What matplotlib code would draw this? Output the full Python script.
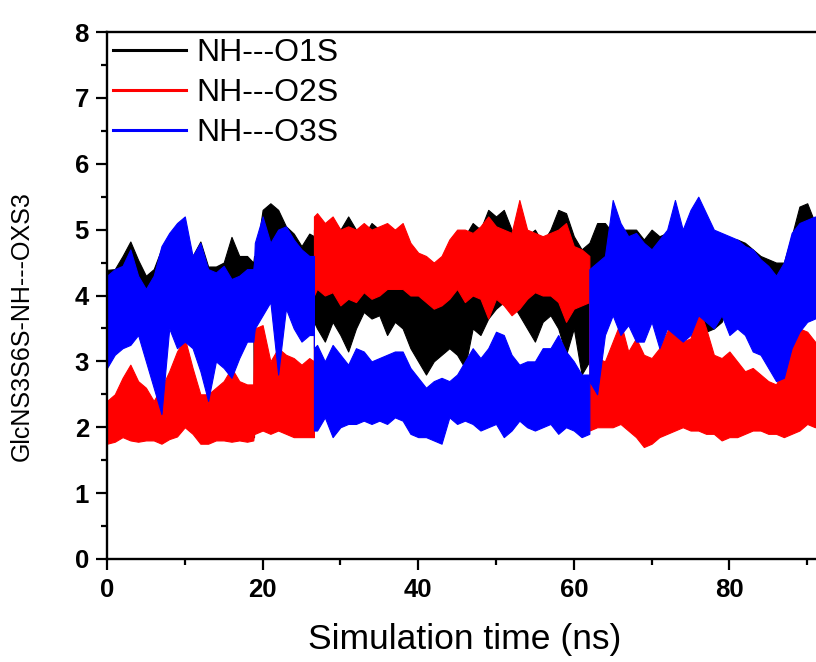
import matplotlib
matplotlib.use("Agg")
import matplotlib.pyplot as plt
from matplotlib.lines import Line2D
from matplotlib.ticker import MultipleLocator

plt.rcParams['font.family'] = ['Liberation Sans', 'DejaVu Sans']

SERIES = ["NH---O1S", "NH---O2S", "NH---O3S"]
COLORS = ["#000000", "#ff0000", "#0000ff"]
XTICKS = [0, 20, 40, 60, 80]

TIME = (list(range(0, 19)) + [18.8, 18.9] + list(range(19, 27)) + [26.6, 26.6]
        + list(range(27, 62)) + [62.0, 62.0] + list(range(63, 92)))

O1S_HIGH = ([4.39, 4.4, 4.6, 4.82, 4.54, 4.3, 4.4, 4.71, 4.6, 4.6, 4.55, 4.6, 4.82, 4.44, 4.44, 4.5, 4.89, 4.6, 4.6]
            + [4.5, 4.6]
            + [4.5, 5.3, 5.4, 5.3, 5.05, 4.94, 4.75, 4.94]
            + [4.9, 5.0]
            + [5.1, 5.0, 5.14, 5.0, 5.2, 5.0, 4.9, 5.1, 5.0, 4.9, 5.0, 4.8, 4.7, 4.5, 4.5, 4.5, 4.4, 4.6, 4.8, 4.9,
               5.1, 5.0, 5.3, 5.2, 5.3, 5.0, 4.9, 4.9, 5.0, 4.8, 5.0, 5.3, 5.25, 4.9, 4.7]
            + [4.8, 4.8]
            + [5.1, 5.1, 4.95, 5.0, 5.0, 5.0, 4.85, 5.0, 4.9, 4.95, 5.0, 4.8, 4.9, 5.0, 4.95, 4.8, 4.7, 4.8, 4.85,
               4.8, 4.7, 4.6, 4.55, 4.5, 4.5, 4.9, 5.35, 5.4, 5.1])
O1S_LOW = ([3.8, 3.9, 3.8, 3.7, 3.8, 3.7, 3.8, 3.9, 3.8, 3.7, 3.8, 3.9, 3.8, 3.7, 3.8, 3.9, 3.8, 3.7, 3.8]
           + [3.7, 1.85]
           + [3.9, 3.9, 4.0, 3.9, 3.8, 3.9, 3.8, 3.9]
           + [3.8, 3.6]
           + [3.5, 3.3, 3.6, 3.4, 3.15, 3.5, 3.75, 3.65, 3.7, 3.4, 3.6, 3.5, 3.2, 3.0, 2.8, 3.0, 3.1, 3.2, 3.1, 2.9,
              3.5, 3.4, 3.65, 3.8, 3.9, 3.9, 3.7, 3.5, 3.3, 3.6, 3.7, 3.5, 3.1, 3.5, 2.8]
           + [3.0, 4.0]
           + [4.2, 4.1, 4.2, 4.1, 4.0, 4.1, 3.9, 4.0, 4.1, 3.9, 4.0, 3.9, 3.8, 3.5, 3.45, 3.5, 3.6, 3.9, 4.0, 4.1,
              4.0, 4.1, 4.0, 3.9, 3.85, 4.0, 4.1, 4.0, 4.1])

O2S_HIGH = ([2.4, 2.5, 2.75, 2.95, 2.7, 2.6, 2.4, 2.6, 2.85, 3.15, 3.35, 2.9, 2.5, 2.5, 2.6, 2.7, 2.9, 2.7, 2.65]
            + [2.65, 3.4]
            + [3.5, 3.55, 3.0, 3.2, 3.1, 3.05, 2.95, 3.05]
            + [3.0, 5.2]
            + [5.25, 5.1, 5.2, 5.0, 5.05, 5.0, 5.1, 5.0, 5.05, 5.1, 5.0, 5.1, 4.8, 4.65, 4.6, 4.5, 4.6, 4.85, 5.0, 5.0,
               4.95, 5.05, 5.2, 5.05, 5.0, 4.95, 5.45, 5.0, 4.95, 4.9, 4.95, 5.0, 5.1, 4.75, 4.7]
            + [4.6, 3.0]
            + [3.05, 3.0, 3.3, 3.6, 3.15, 3.35, 3.1, 3.05, 3.2, 3.45, 3.75, 3.3, 3.35, 3.85, 3.5, 3.1, 3.05, 3.15,
               3.0, 2.85, 2.9, 2.8, 2.7, 2.65, 2.9, 3.25, 3.5, 3.45, 3.3])
O2S_LOW = ([1.75, 1.78, 1.85, 1.8, 1.78, 1.8, 1.8, 1.75, 1.82, 1.86, 2.0, 1.9, 1.75, 1.75, 1.8, 1.8, 1.78, 1.8, 1.78]
           + [1.8, 1.9]
           + [1.9, 1.95, 1.9, 1.95, 1.9, 1.85, 1.85, 1.85]
           + [1.85, 4.0]
           + [4.1, 4.0, 4.05, 3.85, 3.95, 3.9, 4.05, 3.95, 4.0, 4.1, 4.1, 4.1, 4.0, 4.0, 3.9, 3.8, 3.85, 3.95, 4.1,
              3.9, 4.0, 3.95, 3.65, 3.95, 3.85, 3.7, 3.8, 3.95, 4.05, 4.0, 4.0, 3.9, 3.6, 3.8, 3.85]
           + [3.9, 1.95]
           + [2.0, 2.0, 2.0, 2.05, 1.95, 1.85, 1.7, 1.75, 1.85, 1.9, 1.95, 2.0, 1.95, 1.95, 1.9, 1.9, 1.8, 1.85,
              1.85, 1.9, 1.95, 1.95, 1.9, 1.9, 1.85, 1.9, 1.95, 2.05, 2.0])

O3S_HIGH = ([4.3, 4.4, 4.45, 4.7, 4.3, 4.1, 4.3, 4.75, 4.95, 5.1, 5.2, 4.6, 4.8, 4.4, 4.35, 4.45, 4.25, 4.3, 4.4]
            + [4.4, 4.5]
            + [4.8, 5.2, 4.8, 5.0, 5.05, 4.85, 4.7, 4.6]
            + [4.6, 3.2]
            + [3.25, 3.0, 3.25, 3.1, 2.95, 3.2, 3.15, 3.0, 3.05, 3.1, 3.15, 3.15, 2.9, 2.75, 2.6, 2.7, 2.75, 2.7,
               2.8, 3.0, 3.2, 3.05, 3.2, 3.45, 3.4, 3.1, 2.95, 3.0, 3.0, 3.2, 3.2, 3.4, 3.15, 3.0, 2.8]
            + [2.8, 4.4]
            + [4.5, 4.6, 5.45, 5.1, 4.9, 4.95, 4.8, 4.7, 4.85, 5.0, 5.45, 5.0, 5.3, 5.5, 5.25, 5.0, 4.95, 4.9,
               4.85, 4.75, 4.7, 4.55, 4.45, 4.3, 4.5, 4.95, 5.1, 5.15, 5.2])
O3S_LOW = ([2.9, 3.1, 3.2, 3.25, 3.4, 3.0, 2.6, 2.2, 3.5, 3.2, 3.3, 3.2, 2.85, 2.4, 3.0, 2.9, 2.75, 3.05, 3.3]
           + [3.3, 3.4]
           + [3.5, 3.7, 3.9, 2.8, 3.8, 3.5, 3.3, 3.4]
           + [3.4, 1.95]
           + [1.95, 2.15, 1.85, 2.0, 2.05, 2.05, 2.1, 2.05, 2.1, 2.05, 2.15, 2.1, 1.9, 1.85, 1.85, 1.8, 1.75, 2.15,
              2.05, 2.1, 2.05, 1.95, 2.0, 2.05, 1.85, 1.95, 2.1, 2.0, 1.95, 2.0, 2.05, 1.9, 2.0, 1.95, 1.85]
           + [1.9, 2.7]
           + [2.5, 3.4, 3.7, 3.4, 3.55, 3.3, 3.3, 3.6, 3.2, 3.5, 3.4, 3.3, 3.4, 3.7, 3.6, 3.5, 3.7, 3.4, 3.5, 3.4,
              3.15, 3.1, 2.9, 2.7, 2.75, 3.2, 3.45, 3.6, 3.65])

LOWS = [O1S_LOW, O2S_LOW, O3S_LOW]
HIGHS = [O1S_HIGH, O2S_HIGH, O3S_HIGH]

fig = plt.figure(figsize=(8.16, 6.62), dpi=100)
ax = fig.add_axes([107 / 816, 1 - 559 / 662, 778 / 816, (559 - 32) / 662])

for lo, hi, c in zip(LOWS, HIGHS, COLORS):
    ax.fill_between(TIME, lo, hi, color=c, lw=0.8)

ax.set_xlim(0, 100)
ax.set_ylim(0, 8)
ax.set_xticks(XTICKS)
ax.xaxis.set_minor_locator(MultipleLocator(10))
ax.yaxis.set_major_locator(MultipleLocator(1))
ax.yaxis.set_minor_locator(MultipleLocator(0.5))
ax.tick_params(which='both', direction='out', width=1.6, top=False, right=False)
ax.tick_params(which='major', length=8)
ax.tick_params(which='minor', length=4.5)
ax.tick_params(axis='y', which='major', pad=5, labelsize=18.5)
ax.tick_params(axis='x', which='major', pad=6, labelsize=18.5)
for lab in ax.get_xticklabels() + ax.get_yticklabels():
    lab.set_fontweight('bold')
for s in ['left', 'bottom', 'top']:
    ax.spines[s].set_linewidth(1.7)
ax.spines['right'].set_visible(False)

fig.text(22 / 816, 1 - 326 / 662, "GlcNS3S6S-NH---OXS3", rotation=90,
         ha='center', va='center', fontsize=18)
fig.text(465 / 816, 1 - 640 / 662, "Simulation time (ns)", ha='center', va='center', fontsize=25.5)

handles = [Line2D([], [], color=c, lw=2.2) for c in COLORS]
ax.legend(handles, SERIES, loc='upper left', bbox_to_anchor=(113 / 816, 1 - 38 / 662),
          bbox_transform=fig.transFigure, frameon=False, fontsize=23, handlelength=2.3,
          handletextpad=0.3, labelspacing=0.31, borderpad=0, borderaxespad=0)

fig.savefig("out.png", dpi=100)
